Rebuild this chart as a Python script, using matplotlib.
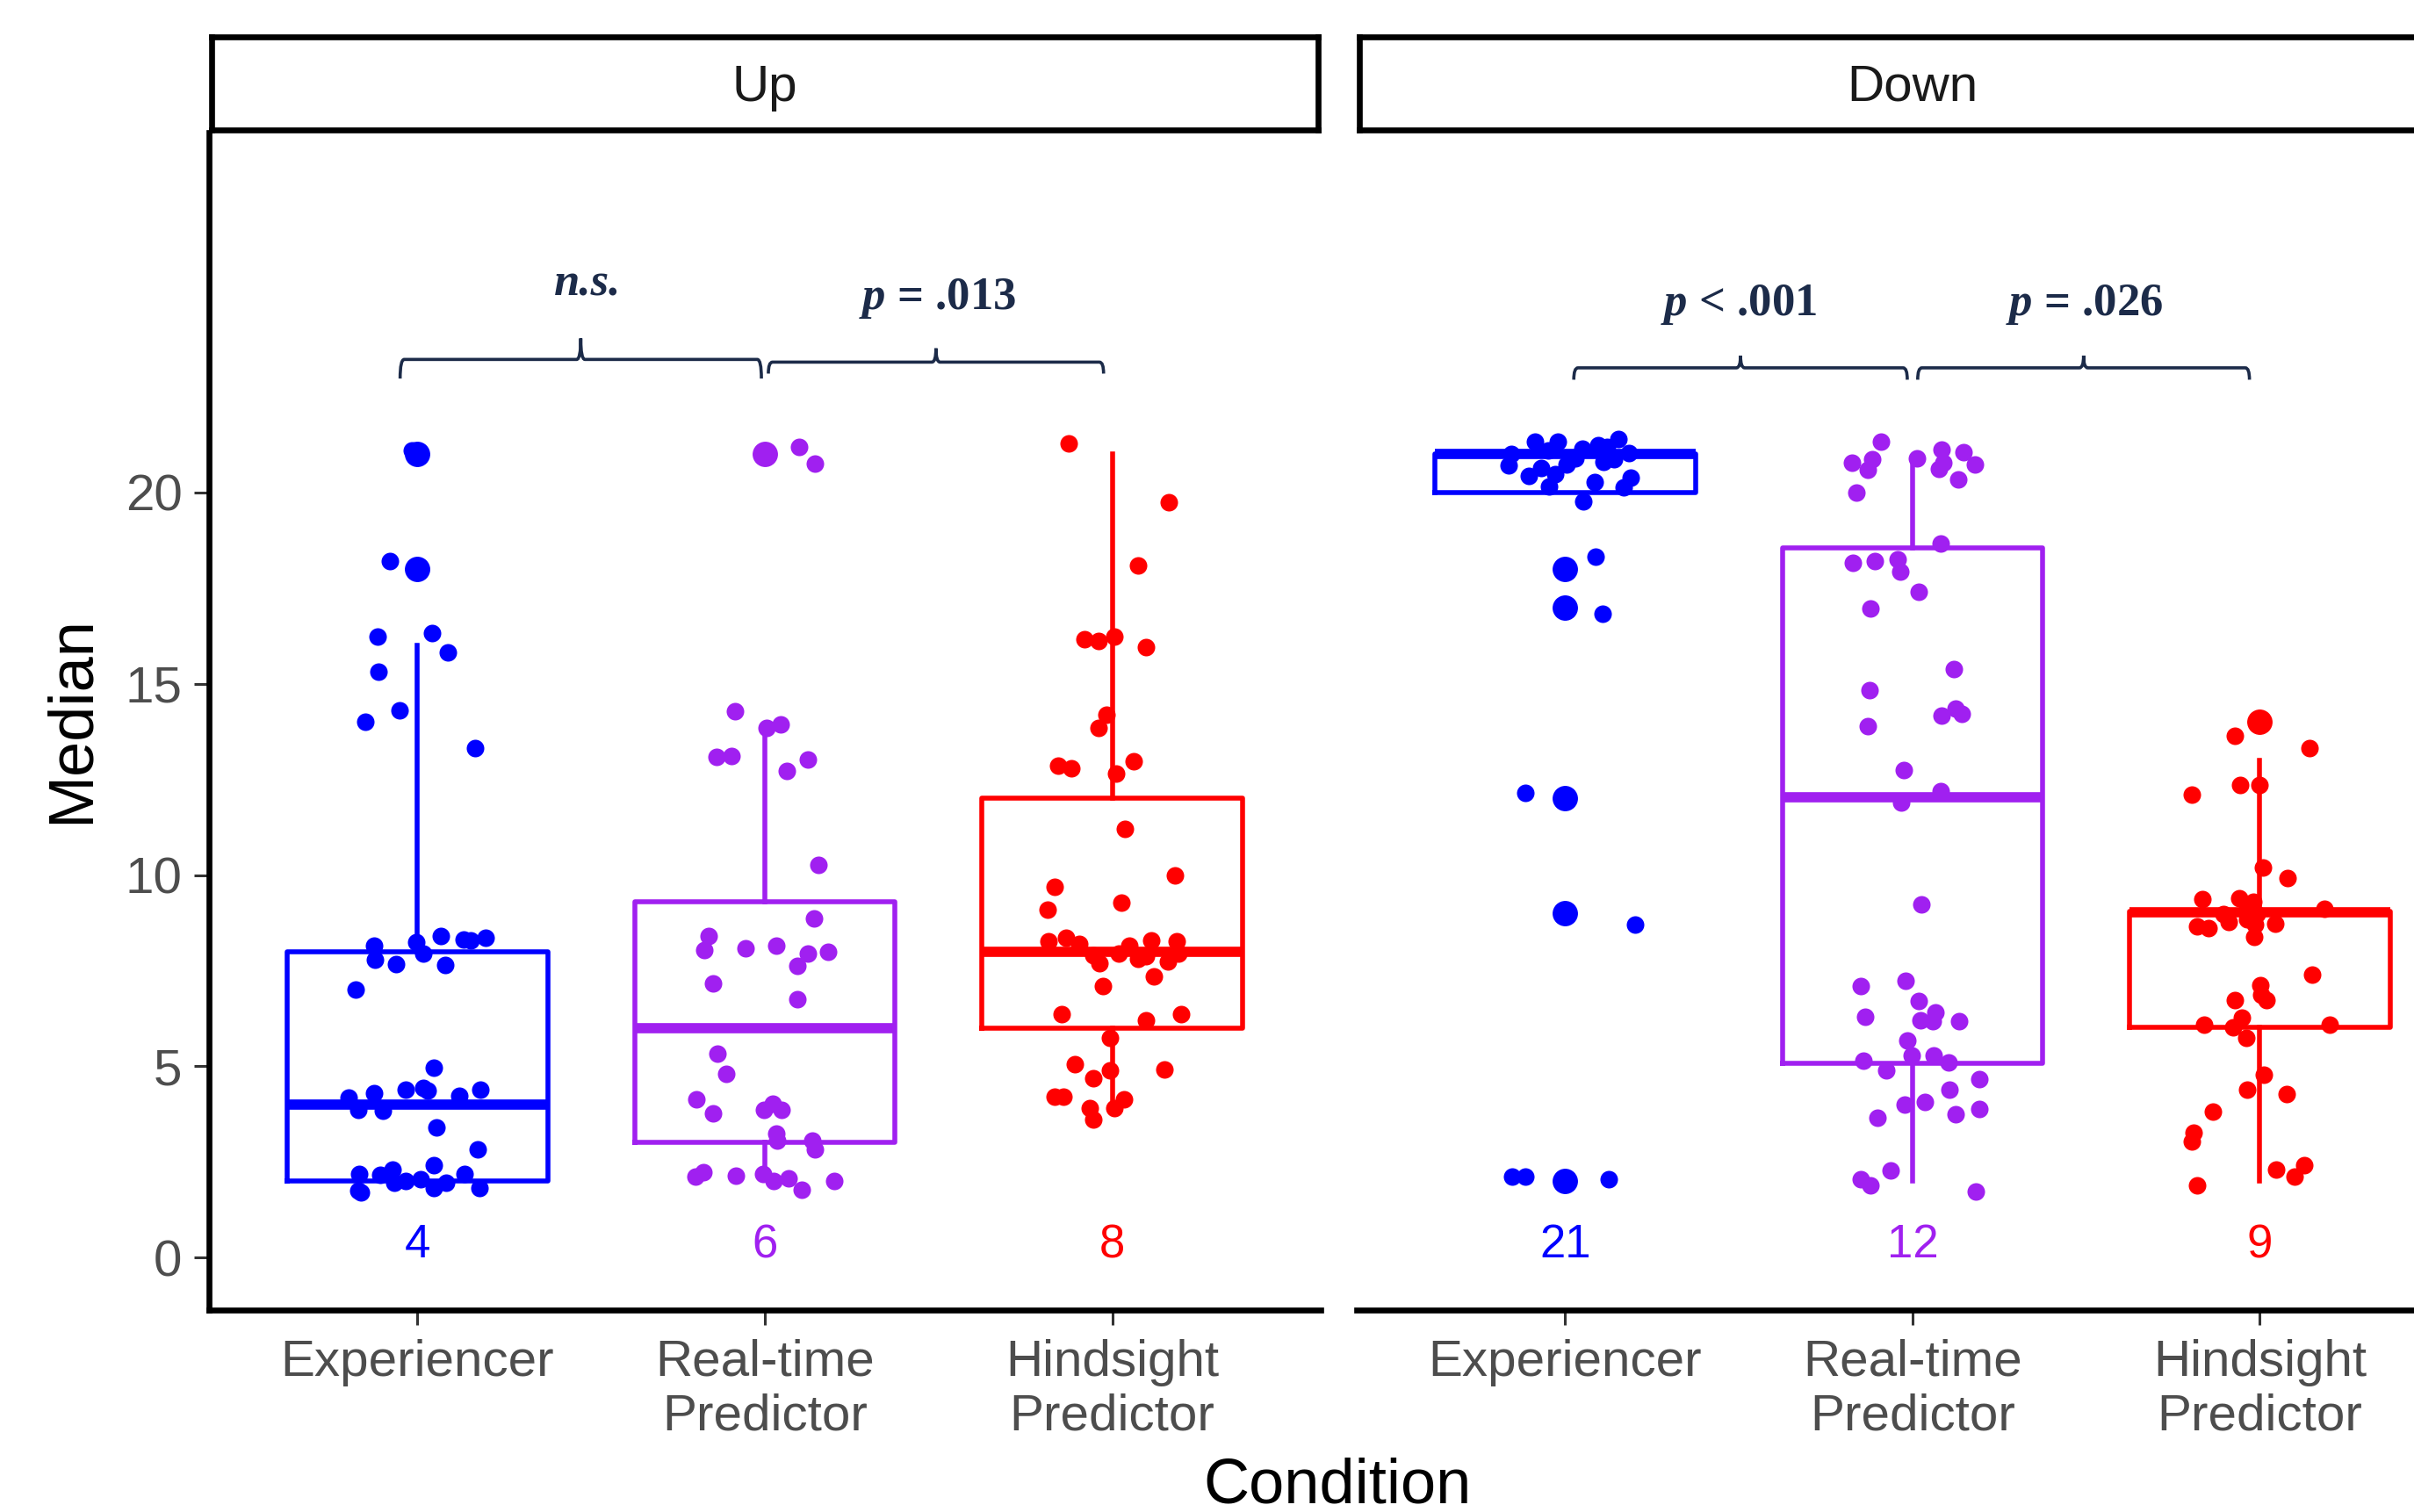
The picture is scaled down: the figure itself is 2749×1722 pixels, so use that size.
import numpy as np
import matplotlib
matplotlib.use("Agg")
import matplotlib.pyplot as plt
from matplotlib.path import Path
from matplotlib.patches import PathPatch

plt.rcParams['font.family'] = ['Liberation Sans', 'DejaVu Sans']
plt.rcParams['mathtext.fontset'] = 'custom'
plt.rcParams['mathtext.it'] = 'Liberation Serif:italic:bold'
plt.rcParams['mathtext.rm'] = 'Liberation Serif:bold'

# ---- data ----
CONDITIONS = ['Experiencer', 'Real-time\nPredictor', 'Hindsight\nPredictor']
PANELS = ['Up', 'Down']
COLORS = ['#0000FF', '#A020F0', '#FF0000']

# box stats per panel: Experiencer, Real-time, Hindsight
UP_Q1 = [2.0, 3.02, 6.0]
UP_MED = [4.0, 6.0, 8.0]
UP_Q3 = [8.0, 9.3, 12.0]
UP_WLO = [2.0, 2.2, 3.8]
UP_WHI = [16.0, 13.85, 21.0]
UP_OUT = [[21.0, 18.0], [21.0], []]

DOWN_Q1 = [20.0, 5.07, 6.02]
DOWN_MED = [21.0, 12.03, 9.03]
DOWN_Q3 = [21.0, 18.55, 9.05]
DOWN_WLO = [20.0, 2.0, 2.0]
DOWN_WHI = [21.0, 20.85, 13.0]
DOWN_OUT = [[18.0, 17.0, 12.0, 9.0, 2.0], [], [14.0]]

UP_LABELS = [4, 6, 8]
DOWN_LABELS = [21, 12, 9]

# individual (jittered) points
UP_EXP_VALS = [21.1, 18.2, 18.0, 16.24, 16.32, 15.82, 15.32, 14.31, 14.01, 13.33,
               8.15, 7.78, 7.67, 8.25, 7.95, 8.41, 7.64, 8.32, 8.29, 8.36, 7.01, 4.96,
               4.19, 3.86, 4.30, 3.84, 4.39, 4.43, 4.36, 4.22, 4.39, 3.41, 2.82,
               2.19, 1.70, 2.16, 2.31, 2.00, 1.96, 2.42, 1.81, 1.96, 2.19, 1.81, 2.05, 1.75]
UP_EXP_JIT = [-0.015, -0.08, 0.01, -0.115, 0.043, 0.087, -0.112, -0.051, -0.149, 0.165,
              -0.126, -0.122, -0.061, -0.003, 0.016, 0.068, 0.080, 0.133, 0.154, 0.196, -0.178, 0.046,
              -0.199, -0.171, -0.125, -0.100, -0.035, 0.016, 0.029, 0.120, 0.181, 0.054, 0.174,
              -0.168, -0.163, -0.106, -0.072, -0.034, -0.068, 0.047, 0.047, 0.083, 0.135, 0.179, 0.01, -0.17]

UP_RT_VALS = [21.0, 21.19, 20.76, 14.29, 13.85, 13.93, 13.10, 13.11, 13.03, 12.73,
              10.27, 8.87, 8.41, 8.04, 8.08, 8.16, 7.95, 8.00, 7.63, 7.17, 6.76,
              5.34, 4.80, 4.14, 3.77, 3.86, 4.03, 3.86, 3.24, 3.05, 3.05, 2.82,
              2.12, 2.23, 2.13, 2.19, 2.00, 2.08, 1.77, 2.00]
UP_RT_JIT = [0.0, 0.099, 0.145, -0.085, 0.004, 0.046, -0.140, -0.095, 0.125, 0.064,
             0.154, 0.141, -0.162, -0.175, -0.055, 0.032, 0.125, 0.181, 0.093, -0.149, 0.093,
             -0.137, -0.111, -0.196, -0.149, -0.003, 0.023, 0.047, 0.032, 0.035, 0.137, 0.144,
             -0.199, -0.178, -0.084, -0.004, 0.025, 0.069, 0.105, 0.199]

UP_HS_VALS = [21.28, 19.74, 18.10, 16.16, 16.13, 16.24, 15.95, 14.19, 13.85, 12.85,
              12.79, 12.98, 12.65, 11.21, 10.0, 9.69, 9.10, 9.29, 8.28, 8.35,
              8.21, 7.91, 7.69, 7.95, 8.15, 7.82, 8.30, 7.36, 7.75, 8.28,
              7.95, 7.88, 7.10, 6.37, 6.21, 6.37, 5.74, 5.06, 4.90, 4.70,
              4.92, 4.20, 4.20, 4.13, 3.91, 3.90, 3.61]
UP_HS_JIT = [-0.126, 0.163, 0.074, -0.080, -0.040, 0.005, 0.097, -0.016, -0.040, -0.157,
             -0.117, 0.061, 0.010, 0.036, 0.180, -0.165, -0.186, 0.025, -0.184, -0.134,
             -0.096, -0.054, -0.037, 0.019, 0.049, 0.075, 0.112, 0.119, 0.161, 0.185,
             0.191, 0.097, -0.026, -0.146, 0.097, 0.199, -0.007, -0.108, -0.007, -0.055,
             0.151, -0.167, -0.140, 0.035, 0.007, -0.064, -0.054]

DOWN_EXP_VALS = [18.0, 18.33, 17.0, 16.83, 12.0, 12.15, 9.0, 8.71, 2.0, 2.12, 2.12, 2.06,
                 21.34, 21.34, 21.40, 21.14, 21.23, 21.01, 20.70, 20.44, 20.15, 20.64,
                 20.73, 20.81, 20.88, 21.03, 20.38, 20.28, 20.14, 19.76, 20.48, 21.1, 20.9, 21.2]
DOWN_EXP_JIT = [0.0, 0.088, 0.0, 0.109, 0.0, -0.115, 0.0, 0.201, 0.0, -0.153, -0.115, 0.126,
                -0.087, -0.020, 0.153, 0.049, 0.095, -0.155, -0.162, -0.104, -0.047, -0.069,
                0.005, 0.111, 0.141, 0.184, 0.188, 0.084, 0.168, 0.053, -0.029, -0.05, 0.03, 0.12]

DOWN_RT_VALS = [21.34, 20.77, 20.86, 20.60, 20.90, 21.13, 20.77, 20.61, 21.06, 20.73,
                20.34, 20.01, 18.66, 18.16, 18.20, 18.25, 17.94, 17.40, 16.98, 15.38,
                14.83, 13.90, 14.17, 14.35, 14.22, 12.75, 12.20, 11.90, 9.23, 7.10,
                7.24, 6.71, 6.30, 6.41, 6.21, 6.17, 6.18, 5.68, 5.29, 5.15,
                4.89, 5.29, 5.11, 4.67, 4.39, 4.01, 4.07, 3.65, 3.74, 3.88,
                2.28, 2.04, 1.89, 1.73]
DOWN_RT_JIT = [-0.090, -0.174, -0.116, -0.129, 0.013, 0.084, 0.090, 0.077, 0.146, 0.181,
               0.132, -0.161, 0.081, -0.171, -0.109, -0.042, -0.034, 0.017, -0.120, 0.119,
               -0.124, -0.129, 0.084, 0.123, 0.143, -0.024, 0.081, -0.032, 0.026, -0.148,
               -0.019, 0.019, -0.135, 0.065, 0.024, 0.058, 0.133, -0.016, -0.003, -0.141,
               -0.075, 0.062, 0.103, 0.193, 0.107, -0.022, 0.036, -0.100, 0.123, 0.192,
               -0.064, -0.150, -0.120, 0.182]

DOWN_HS_VALS = [14.01, 13.65, 13.32, 12.11, 12.35, 12.35, 10.20, 9.92, 9.37, 9.40,
                9.13, 9.30, 8.98, 8.67, 8.61, 8.78, 8.84, 8.71, 8.38, 8.74,
                9.04, 8.98, 7.39, 7.13, 6.87, 6.74, 6.74, 6.10, 6.27, 6.01,
                5.75, 6.10, 4.79, 4.40, 4.27, 3.82, 3.26, 3.03, 2.29, 2.42,
                2.11, 1.89]
DOWN_HS_JIT = [0.0, -0.072, 0.143, -0.195, -0.058, -0.001, 0.008, 0.079, -0.165, -0.060,
               0.185, -0.019, -0.104, -0.181, -0.147, -0.089, -0.036, -0.014, -0.017, 0.045,
               -0.040, -0.008, 0.151, 0.001, 0.004, 0.020, -0.072, -0.160, -0.051, -0.076,
               -0.040, 0.200, 0.012, -0.036, 0.078, -0.134, -0.190, -0.195, 0.047, 0.127,
               0.101, -0.180]

# significance brackets: (x start, x end, y, end drop, tip height), text
UP_BRACKETS = [(0.95, 1.99, 23.48, 0.5, 0.55), (2.01, 2.975, 23.41, 0.3, 0.36)]
UP_BRACKET_TEXT = [('n.s.', 1.49, 25.16), (r'$p$ = .013', 2.496, 24.8)]
DOWN_BRACKETS = [(1.025, 1.985, 23.26, 0.31, 0.32), (2.015, 2.97, 23.26, 0.31, 0.32)]
DOWN_BRACKET_TEXT = [(r'$p$ < .001', 1.5, 24.63), (r'$p$ = .026', 2.494, 24.63)]

NAVY = '#1C2B49'


def draw_brace(ax, x1, x2, y, drop, tip, color=NAVY):
    xm = (x1 + x2) / 2
    r = 0.012
    t = 0.012
    verts = [(x1, y - drop), (x1, y), (x1 + r, y),
             (xm - t, y), (xm, y), (xm, y + tip),
             (xm, y), (xm + t, y),
             (x2 - r, y), (x2, y), (x2, y - drop)]
    codes = [Path.MOVETO, Path.CURVE3, Path.CURVE3,
             Path.LINETO, Path.CURVE3, Path.CURVE3,
             Path.CURVE3, Path.CURVE3,
             Path.LINETO, Path.CURVE3, Path.CURVE3]
    ax.add_patch(PathPatch(Path(verts, codes), facecolor='none', edgecolor=color,
                           linewidth=1.3, capstyle='butt', clip_on=False))


def draw_panel(ax, q1, med, q3, wlo, whi, outs, points, labels):
    for i in range(3):
        c = COLORS[i]
        stats = [dict(med=med[i], q1=q1[i], q3=q3[i], whislo=wlo[i], whishi=whi[i],
                      fliers=np.array(outs[i]))]
        ax.bxp(stats, positions=[i + 1], widths=0.75, showcaps=False, manage_ticks=False,
               boxprops=dict(color=c, linewidth=2.0),
               whiskerprops=dict(color=c, linewidth=2.0),
               medianprops=dict(color=c, linewidth=4.2, solid_capstyle='butt'),
               flierprops=dict(marker='o', markerfacecolor=c, markeredgecolor='none',
                               markersize=10.4))
        vals, jit = points[i]
        ax.scatter(i + 1 + np.array(jit), vals, s=52, color=c, linewidths=0, zorder=3)
        ax.text(i + 1, 0, str(labels[i]), color=c, ha='center', va='baseline', fontsize=19)

    ax.set_xlim(0.4, 3.6)
    ax.set_ylim(-1.37, 29.41)
    ax.set_xticks([1, 2, 3])
    ax.set_xticklabels(CONDITIONS, linespacing=1.18)
    ax.set_yticks([0, 5, 10, 15, 20])
    ax.tick_params(axis='both', length=6, width=1.1, color='#333333', labelsize=21,
                   labelcolor='#4D4D4D', pad=5)
    ax.tick_params(axis='x', pad=5.8)
    for s in ['top', 'right']:
        ax.spines[s].set_visible(False)
    for s in ['left', 'bottom']:
        ax.spines[s].set_linewidth(2.4)
        ax.spines[s].set_color('black')


fig = plt.figure(figsize=(13.745, 8.61), dpi=200)

panel_w = 0.4605
panel_b = 0.1336
panel_h = 0.7787
lefts = [0.0866, 0.5620]

ax_up = fig.add_axes([lefts[0], panel_b, panel_w, panel_h])
ax_dn = fig.add_axes([lefts[1], panel_b, panel_w, panel_h])

draw_panel(ax_up, UP_Q1, UP_MED, UP_Q3, UP_WLO, UP_WHI, UP_OUT,
           [(UP_EXP_VALS, UP_EXP_JIT), (UP_RT_VALS, UP_RT_JIT), (UP_HS_VALS, UP_HS_JIT)],
           UP_LABELS)
draw_panel(ax_dn, DOWN_Q1, DOWN_MED, DOWN_Q3, DOWN_WLO, DOWN_WHI, DOWN_OUT,
           [(DOWN_EXP_VALS, DOWN_EXP_JIT), (DOWN_RT_VALS, DOWN_RT_JIT), (DOWN_HS_VALS, DOWN_HS_JIT)],
           DOWN_LABELS)
ax_dn.spines['left'].set_visible(False)
ax_dn.tick_params(axis='y', left=False, labelleft=False)

for ax, brackets, texts in [(ax_up, UP_BRACKETS, UP_BRACKET_TEXT),
                            (ax_dn, DOWN_BRACKETS, DOWN_BRACKET_TEXT)]:
    for b in brackets:
        draw_brace(ax, *b)
    for txt, x, y in texts:
        style = 'italic' if txt == 'n.s.' else 'normal'
        ax.text(x, y, txt, ha='center', va='baseline', fontsize=19, color=NAVY,
                family='Liberation Serif', weight='bold', style=style)

# facet strips (slightly inset so the thick border sits inside)
strip_b = 0.9143
strip_h = 0.0616
for x0, name in zip(lefts, PANELS):
    sax = fig.add_axes([x0 + 0.0012, strip_b, panel_w - 0.0024, strip_h])
    sax.set_xticks([])
    sax.set_yticks([])
    for s in sax.spines.values():
        s.set_linewidth(2.4)
        s.set_color('black')
    sax.text(0.5, 0.45, name, ha='center', va='center', fontsize=21, color='#1A1A1A',
             transform=sax.transAxes)

fig.text(82 / 2749, 1 - 820 / 1722, 'Median', rotation=90, ha='center', va='center',
         fontsize=26, color='black')
fig.text(1523 / 2749, 1 - 1693 / 1722, 'Condition', ha='center', va='center',
         fontsize=26, color='black')

fig.savefig('out.png', dpi=200)
